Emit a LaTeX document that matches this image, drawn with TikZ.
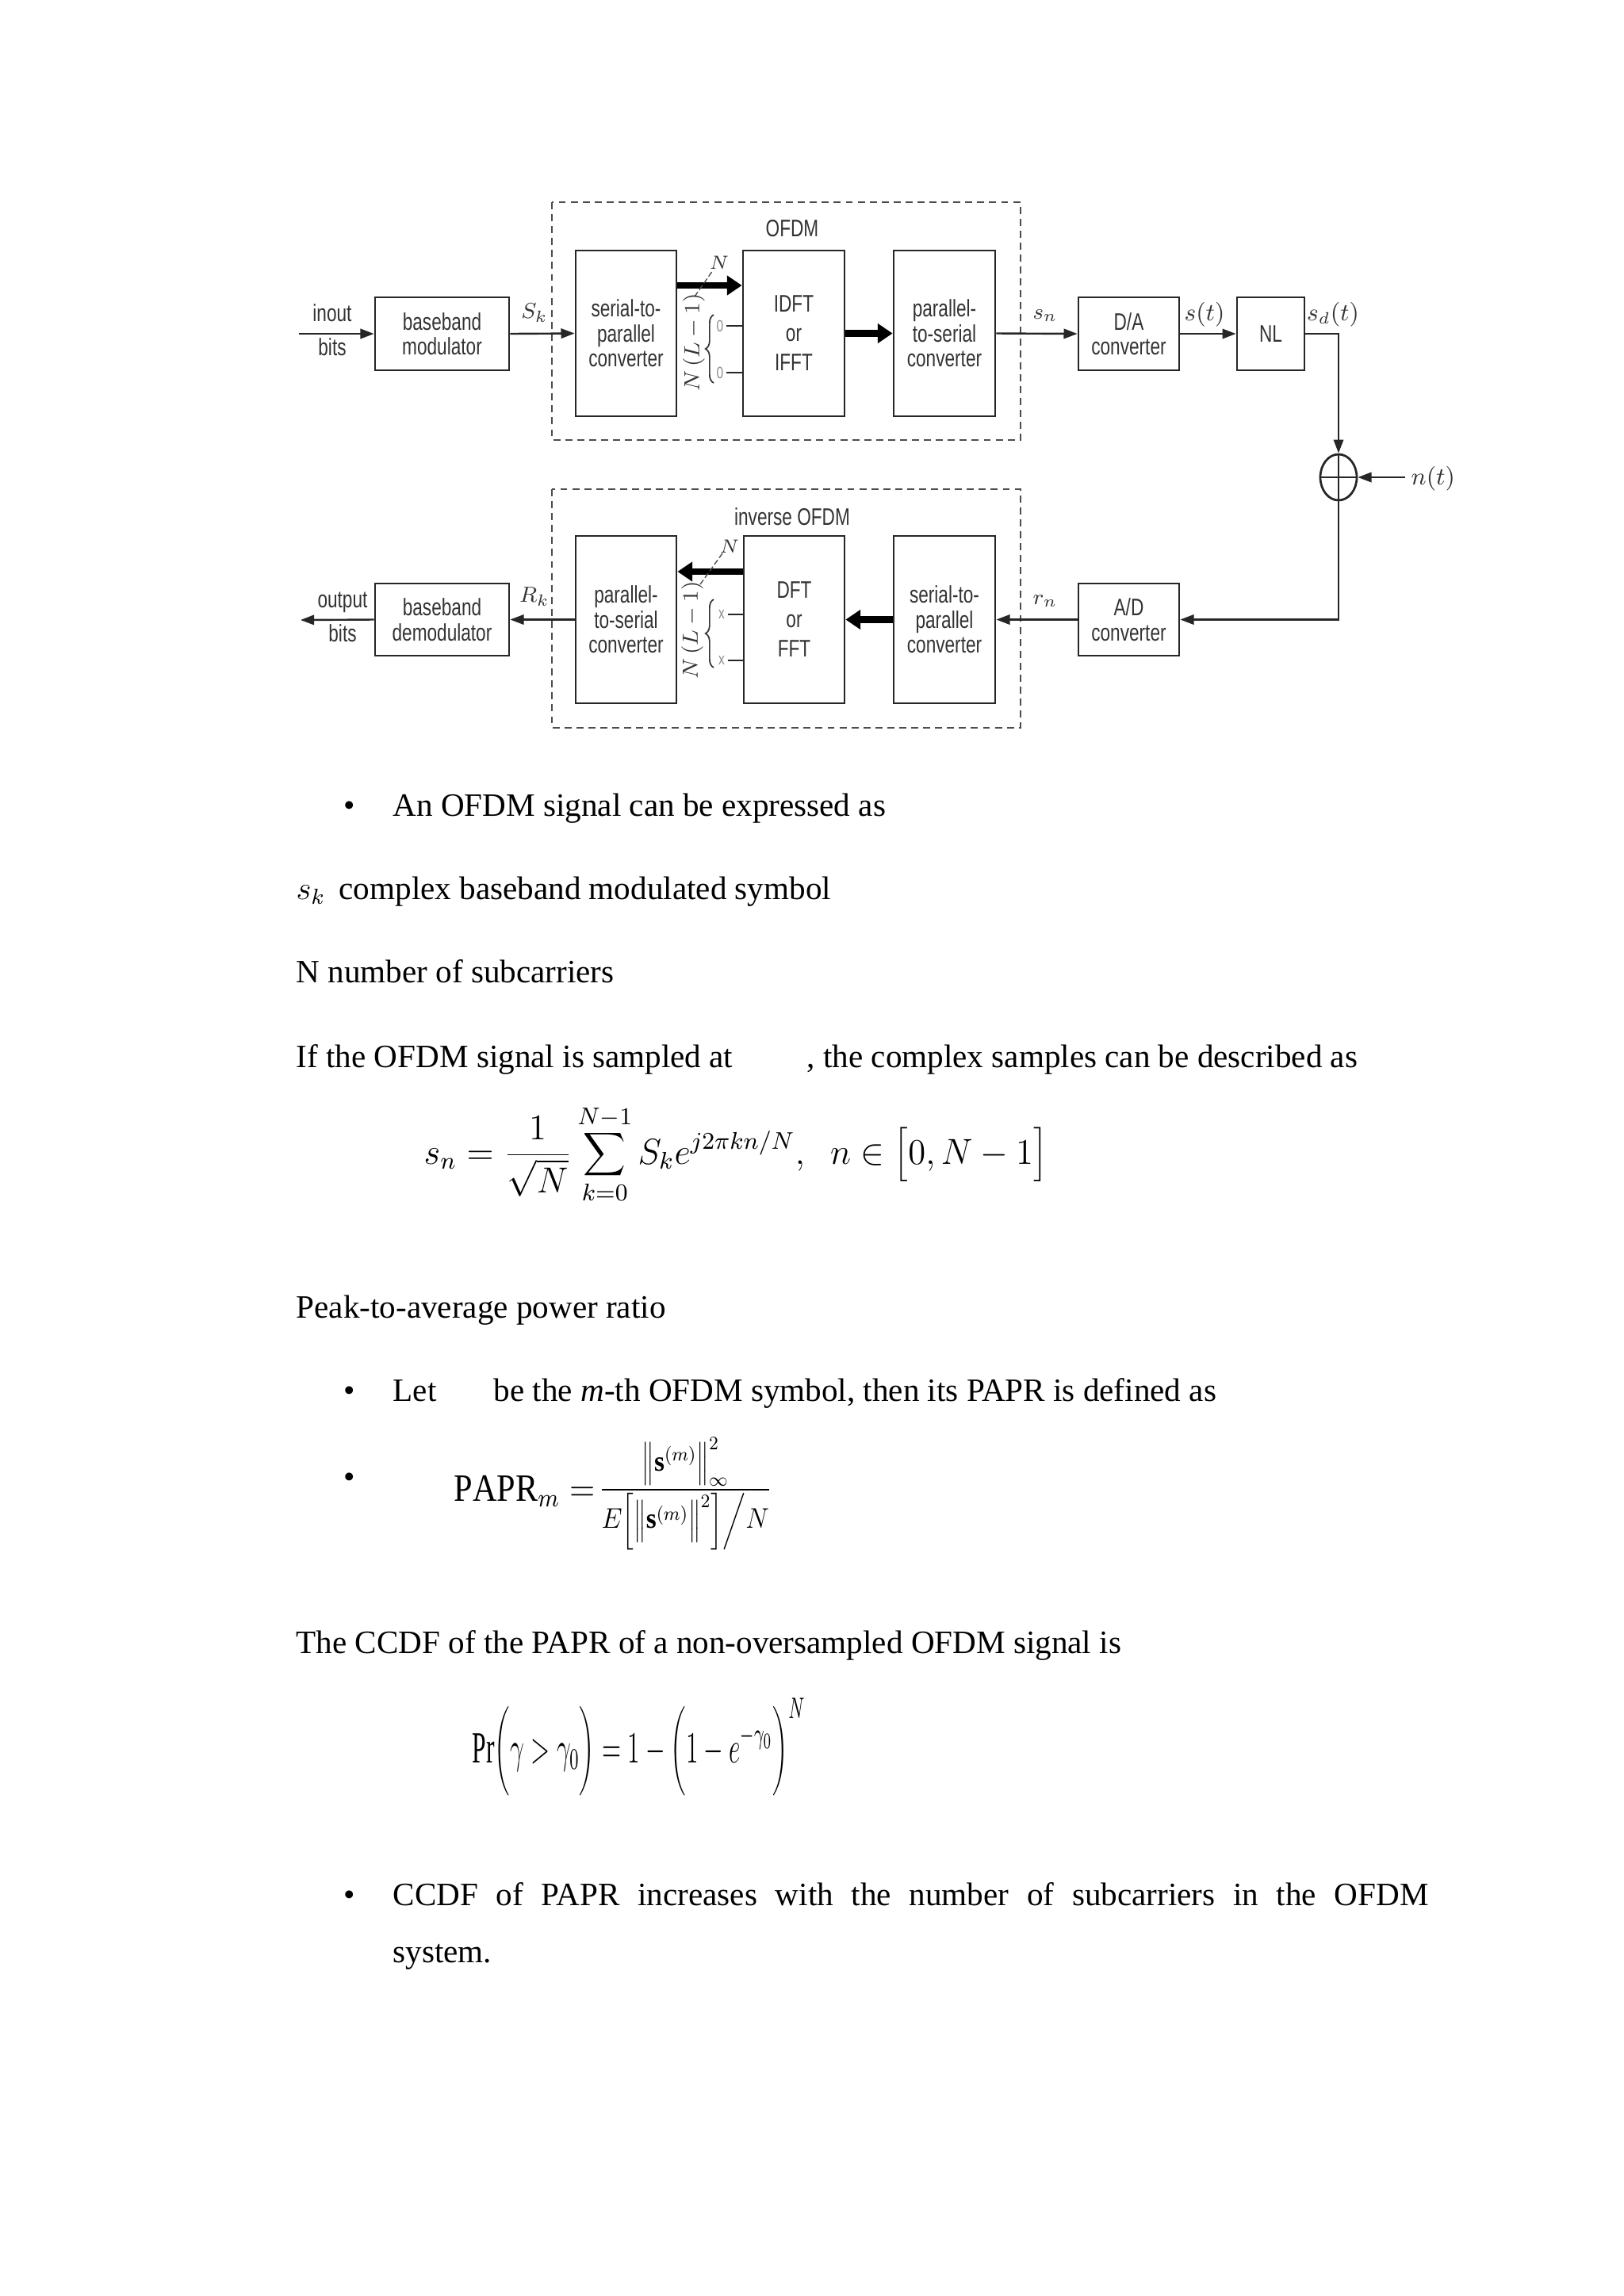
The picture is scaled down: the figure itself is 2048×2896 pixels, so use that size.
\documentclass[tikz,border=0pt]{standalone}
\usepackage{fontspec}
\setmainfont{Liberation Serif}
\newfontfamily\dfont[FakeStretch=0.75]{Liberation Sans}
\usetikzlibrary{arrows.meta,shapes.geometric,decorations.pathreplacing,calc}
\newdimen\pxu \pxu=0.29175pt
\begin{document}
\begin{tikzpicture}[x=0.29175pt,y=-0.29175pt,
  blk/.style={draw=black!85, line width=0.8pt, inner sep=0pt, align=center,
    font=\dfont\fontsize{8.8}{9.2}\selectfont, text=black!80},
  arr/.style={line width=0.7pt, draw=black!85, -{Triangle[length=5pt,width=3.6pt]}},
  fat/.style={line width=2.4pt, draw=black, -{Triangle[length=5.5pt,width=7pt]}},
  lbl/.style={inner sep=0pt, align=center, font=\dfont\fontsize{8.8}{12.5}\selectfont, text=black!80},
  sig/.style={inner sep=0pt, font=\fontsize{8}{9}\selectfont, text=black!80},
  tiny/.style={inner sep=0pt, font=\dfont\fontsize{6}{6}\selectfont, text=black!45},
  frame/.style={draw=black!70, line width=0.55pt, dash pattern=on 2.6pt off 1.8pt},
  body/.style={anchor=base west, inner sep=0pt, font=\fontsize{12}{14}\selectfont},
  thinln/.style={line width=0.6pt, draw=black!85}]
\fill[white] (0,0) rectangle (2048,2896);
\useasboundingbox (0,0) rectangle (2048,2896);

% dashed frames
\draw[frame] (696,255) rectangle (1287,555);
\draw[frame] (696,617) rectangle (1287,918);
\node[lbl] (lofdm) at (999,288) {OFDM};
\node[lbl] (liofdm) at (999,652) {inverse OFDM};

% upper chain
\node[blk, minimum width=169\pxu, minimum height=92\pxu] (bmod) at (557.5,421) {baseband\\modulator};
\node[blk, minimum width=127\pxu, minimum height=209\pxu] (sp1) at (789.5,420.5) {serial-to-\\parallel\\converter};
\node[blk, minimum width=128\pxu, minimum height=209\pxu, font=\dfont\fontsize{8.8}{10.8}\selectfont] (idft) at (1001,420.5) {IDFT\\or\\IFFT};
\node[blk, minimum width=128\pxu, minimum height=209\pxu] (ps1) at (1191,420.5) {parallel-\\to-serial\\converter};
\node[blk, minimum width=127\pxu, minimum height=92\pxu] (da) at (1423.5,421) {D/A\\converter};
\node[blk, minimum width=85\pxu, minimum height=92\pxu] (nl) at (1602.5,421) {NL};
\node[draw=black!85, line width=0.8pt, ellipse, inner sep=0pt, minimum width=46\pxu, minimum height=58\pxu] (add) at (1688,602) {};
\draw[thinln] (add.north) -- (add.south) (add.west) -- (add.east);

% lower chain
\node[blk, minimum width=127\pxu, minimum height=91\pxu] (ad) at (1423.5,781.5) {A/D\\converter};
\node[blk, minimum width=128\pxu, minimum height=211\pxu] (sp2) at (1191,781.5) {serial-to-\\parallel\\converter};
\node[blk, minimum width=127\pxu, minimum height=211\pxu, font=\dfont\fontsize{8.8}{10.8}\selectfont] (dft) at (1001.5,781.5) {DFT\\or\\FFT};
\node[blk, minimum width=127\pxu, minimum height=211\pxu] (ps2) at (789.5,781.5) {parallel-\\to-serial\\converter};
\node[blk, minimum width=169\pxu, minimum height=91\pxu] (bdem) at (557.5,781.5) {baseband\\demodulator};

% end points
\coordinate (inp) at (377,421);
\coordinate (outp) at (379,782);
\coordinate (noise) at (1772,602);
\coordinate (t1) at (0,360);
\coordinate (t2) at (0,721);

% connectors
\draw[arr] (inp) -- (bmod.west);
\draw[arr] (bmod.east) -- (sp1.west);
\draw[fat] (sp1.east |- t1) -- (idft.west |- t1);
\draw[fat] (idft.east) -- (ps1.west);
\draw[arr] (ps1.east) -- (da.west);
\draw[arr] (da.east) -- (nl.west);
\draw[arr] (nl.east) -| (add.north);
\draw[arr] (noise) -- (add.east);
\draw[arr] (add.south) |- (ad.east);
\draw[arr] (ad.west) -- (sp2.east);
\draw[fat] (sp2.west) -- (dft.east);
\draw[fat] (dft.west |- t2) -- (ps2.east |- t2);
\draw[arr] (ps2.west) -- (bdem.east);
\draw[arr] (bdem.west) -- (outp);

% labels
\node[lbl] (linb) at (419,416) {inout\\bits};
\node[lbl] (loutb) at (432,778) {output\\bits};
\node[sig] (lsk) at (674,395) {$S_k$};
\node[sig] (lrk) at (674,753) {$R_k$};
\node[sig] (lsn) at (1318,398) {$s_n$};
\node[sig] (lrn) at (1318,758) {$r_n$};
\node[sig, font=\fontsize{9}{10}\selectfont] (lst) at (1519,397) {$s(t)$};
\node[sig, font=\fontsize{9}{10}\selectfont] (lsdt) at (1681,397) {$s_d(t)$};
\node[sig, font=\fontsize{9}{10}\selectfont, anchor=west] (lnt) at (1779,604) {$n(t)$};

% N slashes and braces
\draw[line width=0.4pt, black!70, dash pattern=on 2pt off 1pt] (876,374) -- (899,341);
\node[sig, font=\fontsize{7}{8}\selectfont] (lN1) at (907,331) {$N$};
\draw[line width=0.4pt, black!70, dash pattern=on 2pt off 1pt] (883,737) -- (911,698);
\node[sig, font=\fontsize{7}{8}\selectfont] (lN2) at (920,689) {$N$};
\node[sig, rotate=90, font=\fontsize{8.5}{9}\selectfont] (lNL1) at (875,432) {$N\,(L-1)$};
\node[sig, rotate=90, font=\fontsize{8.5}{9}\selectfont] (lNL2) at (873,795) {$N\,(L-1)$};
\draw[line width=0.5pt, black!80, decorate, decoration={brace, amplitude=3pt}] (900,483) -- (900,397);
\draw[line width=0.5pt, black!80, decorate, decoration={brace, amplitude=3pt}] (900,842) -- (900,756);
\node[tiny] (z1) at (908,411) {0};
\node[tiny] (z2) at (908,470) {0};
\node[tiny] (x1) at (910,775) {x};
\node[tiny] (x2) at (910,833) {x};
\draw[thinln] (z1.east) ++(3,0) -- (idft.west |- z1);
\draw[thinln] (z2.east) ++(3,0) -- (idft.west |- z2);
\draw[thinln] (x1.east) ++(3,0) -- (dft.west |- x1);
\draw[thinln] (x2.east) ++(3,0) -- (dft.west |- x2);

% body text
\node[body] (b1) at (433,1029) {\textbullet};
\node[body] (t1txt) at (495,1029) {An OFDM signal can be expressed as};
\node[body] (skm) at (373,1134) {$s_k$};
\node[body] (t2txt) at (427,1134) {complex baseband modulated symbol};
\node[body] (t3txt) at (373,1239) {N number of subcarriers};
\node[body] (t4a) at (373,1346) {If the OFDM signal is sampled at};
\node[body] (t4b) at (1017,1346) {, the complex samples can be described as};
\node[body] (eq1) at (534,1468) {\resizebox{229.3pt}{21.6pt}{$\displaystyle s_n=\frac{1}{\sqrt{N}}\sum_{k=0}^{N-1}S_k e^{j2\pi kn/N},\;\; n\in\Bigl[0,N-1\Bigr]$}};
\node[body] (t5txt) at (373,1662) {Peak-to-average power ratio};
\node[body] (b2) at (433,1767) {\textbullet};
\node[body] (t6a) at (495,1767) {Let};
\node[body] (t6b) at (622,1767) {be the \textit{m}-th OFDM symbol, then its PAPR is defined as};
\node[body] (b3) at (433,1876) {\textbullet};
\node[body] (eq2) at (572,1893) {\resizebox{51.9pt}{9.4pt}{$\mathrm{PAPR}_m=$}\hspace{1.4pt}\raisebox{1.5pt}{\resizebox{63.6pt}{21.7pt}{$\displaystyle \frac{\Bigl\|\mathbf{s}^{(m)}\Bigr\|_\infty^2}{E\biggl[\Bigl\|\mathbf{s}^{(m)}\Bigr\|^2\biggr]\bigg/N}$}}};
\node[body] (t7txt) at (373,2085) {The CCDF of the PAPR of a non-oversampled OFDM signal is};
\node[body] (eq3) at (595,2223) {\resizebox{122.5pt}{23.6pt}{$\displaystyle \Pr\biggl(\gamma>\gamma_0\biggr)=1-\biggl(1-e^{-\gamma_0}\biggr)^N$}};
\node[body] (b4) at (433,2403) {\textbullet};
\node[body] (t8txt) at (495,2403) {\makebox[381pt][s]{CCDF of PAPR increases with the number of subcarriers in the OFDM}};
\node[body] (t9txt) at (495,2475) {system.};
\end{tikzpicture}
\end{document}
